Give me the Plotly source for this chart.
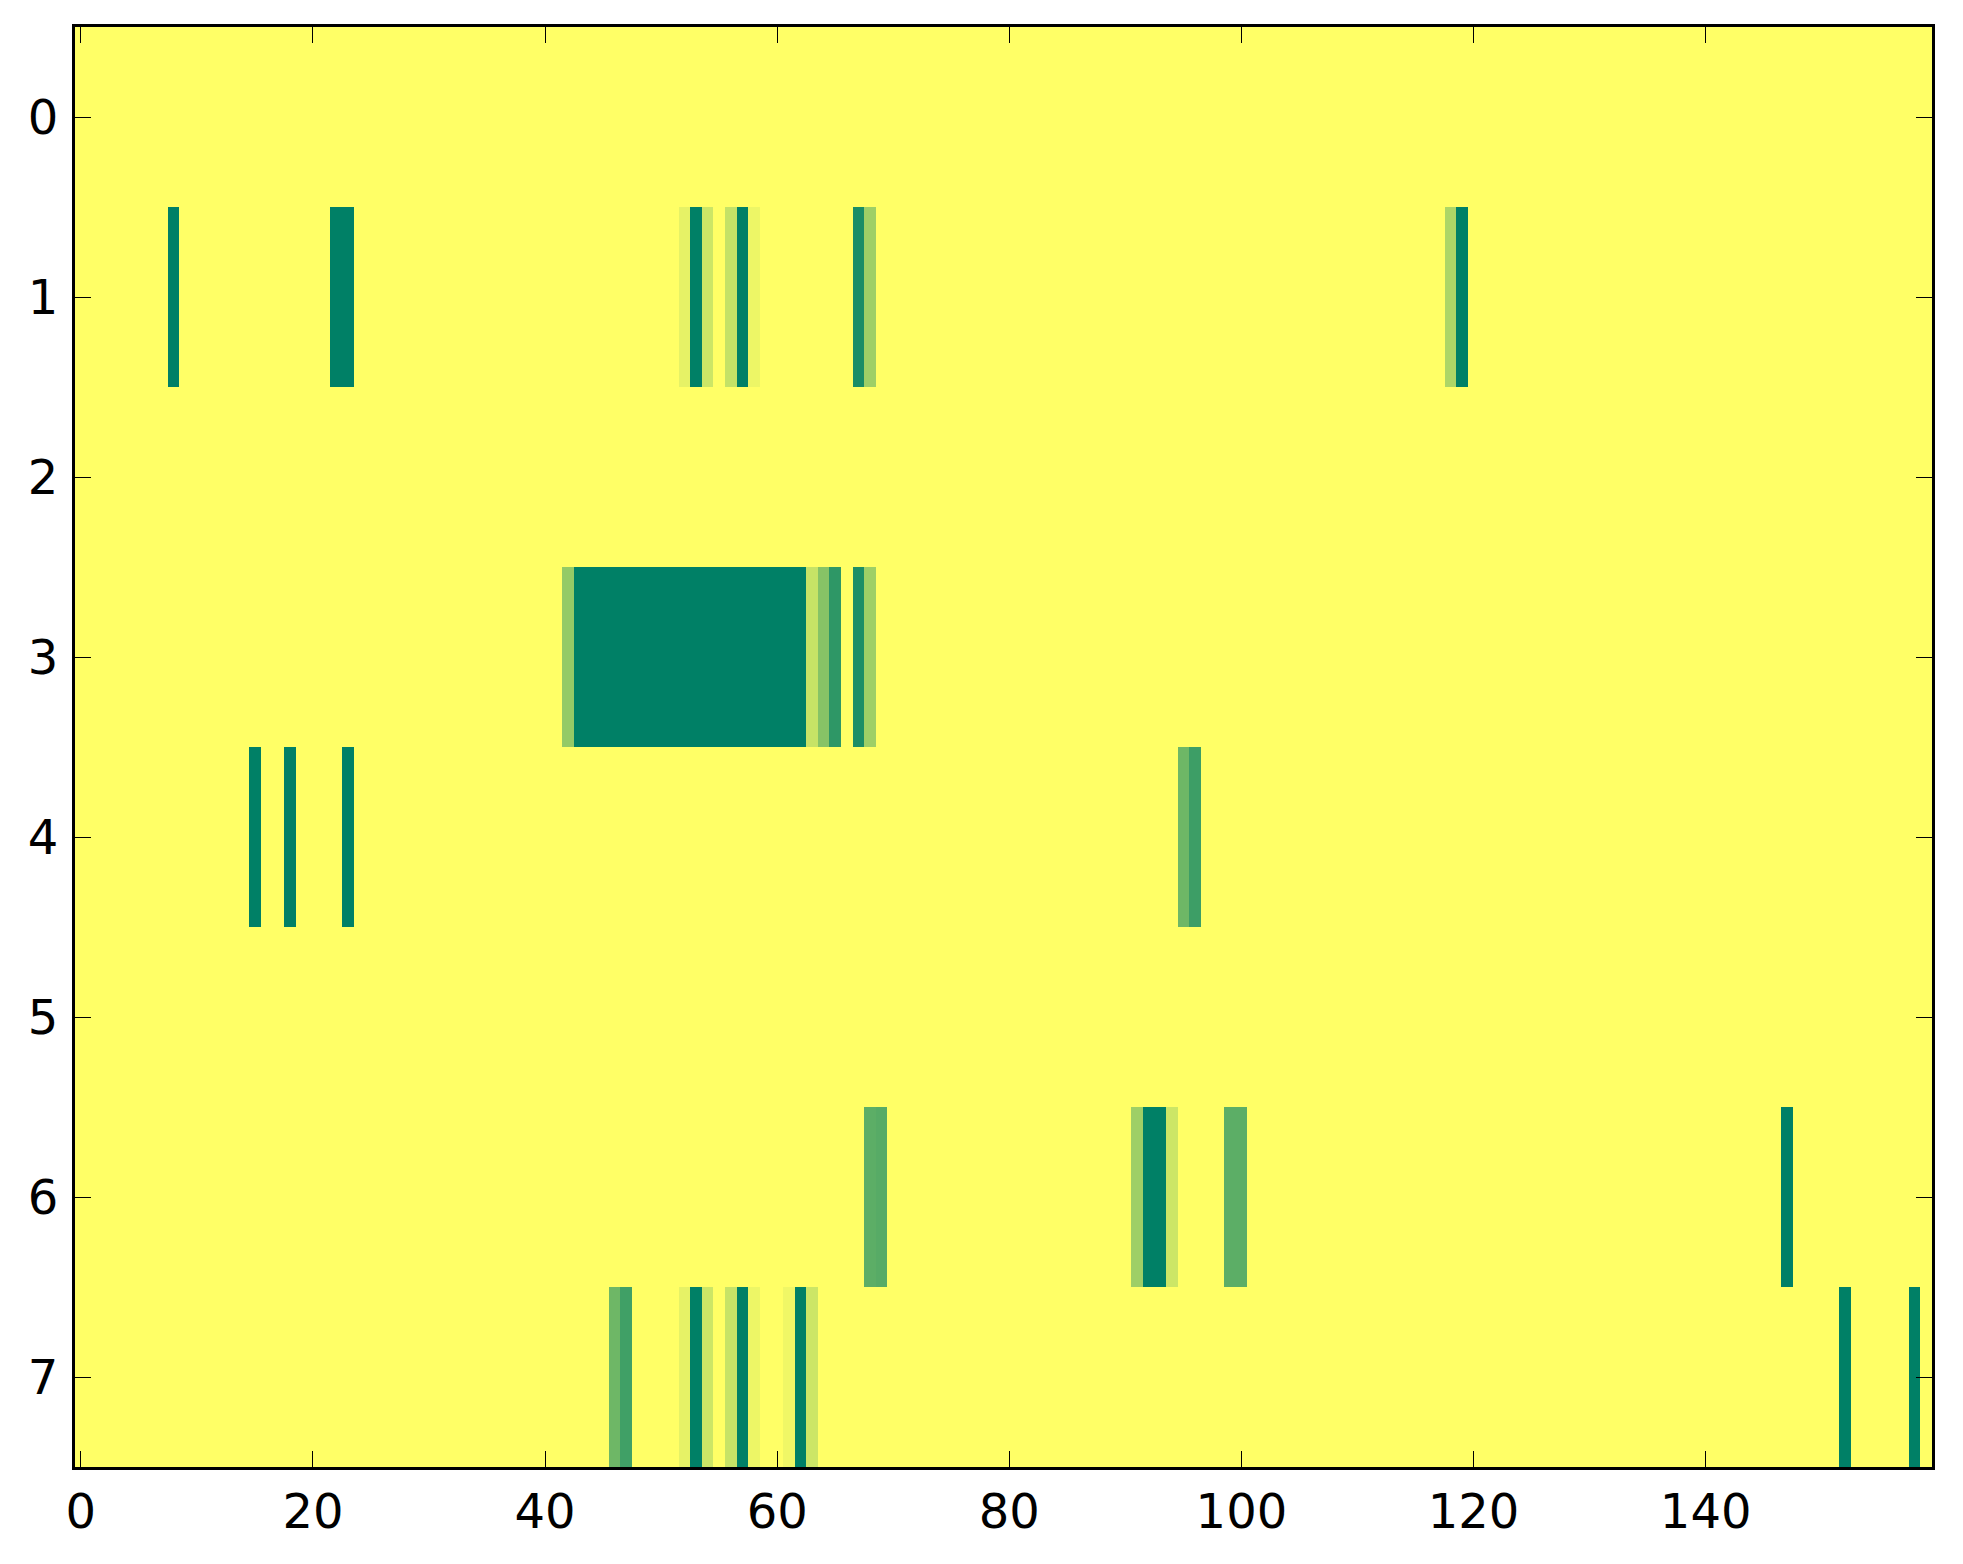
import plotly.graph_objects as go

n_cols = 160
row_labels = [0, 1, 2, 3, 4, 5, 6, 7]

# non-zero cells per row: column -> value (0 = yellow, 1 = dark green)
row0 = {}
row1 = {8: 1.0, 22: 1.0, 23: 1.0, 52: 0.10, 53: 1.0, 54: 0.20, 56: 0.23, 57: 1.0,
        58: 0.07, 67: 0.90, 68: 0.38, 118: 0.32, 119: 1.0}
row2 = {}
row3 = {42: 0.42, **{c: 1.0 for c in range(43, 63)}, 63: 0.22, 64: 0.47, 65: 0.82,
        67: 0.89, 68: 0.38}
row4 = {15: 1.0, 18: 1.0, 23: 1.0, 95: 0.57, 96: 0.76}
row5 = {}
row6 = {68: 0.64, 69: 0.66, 91: 0.38, 92: 1.0, 93: 1.0, 94: 0.20, 99: 0.64, 100: 0.64,
        147: 1.0}
row7 = {46: 0.57, 47: 0.75, 52: 0.10, 53: 1.0, 54: 0.20, 56: 0.22, 57: 1.0, 58: 0.07,
        61: 0.06, 62: 1.0, 63: 0.20, 152: 1.0, 158: 1.0}

rows = [row0, row1, row2, row3, row4, row5, row6, row7]
z = [[r.get(c, 0.0) for c in range(n_cols)] for r in rows]

x_ticks = [0, 20, 40, 60, 80, 100, 120, 140]

fig = go.Figure(go.Heatmap(
    z=z,
    x=list(range(n_cols)),
    y=row_labels,
    colorscale=[[0, "#FFFF66"], [1, "#008066"]],
    zmin=0, zmax=1,
    showscale=False,
    hoverinfo="skip",
))

axis_common = dict(
    showline=True, linecolor="black", linewidth=3.3, mirror="ticks",
    ticks="inside", ticklen=16, tickwidth=1.3, tickcolor="black",
    showgrid=False, zeroline=False,
    tickfont=dict(family="DejaVu Sans", size=48, color="black"),
)

fig.update_xaxes(range=[-0.5, n_cols - 0.5], tickvals=x_ticks, ticklabelstandoff=0,
                 **axis_common)
fig.update_yaxes(range=[7.5, -0.5], tickvals=row_labels, ticklabelstandoff=4,
                 **axis_common)

fig.update_layout(
    width=1963, height=1564,
    margin=dict(l=67, r=39, t=19, b=105),
    paper_bgcolor="white", plot_bgcolor="white",
)

fig.write_html("out.html")
